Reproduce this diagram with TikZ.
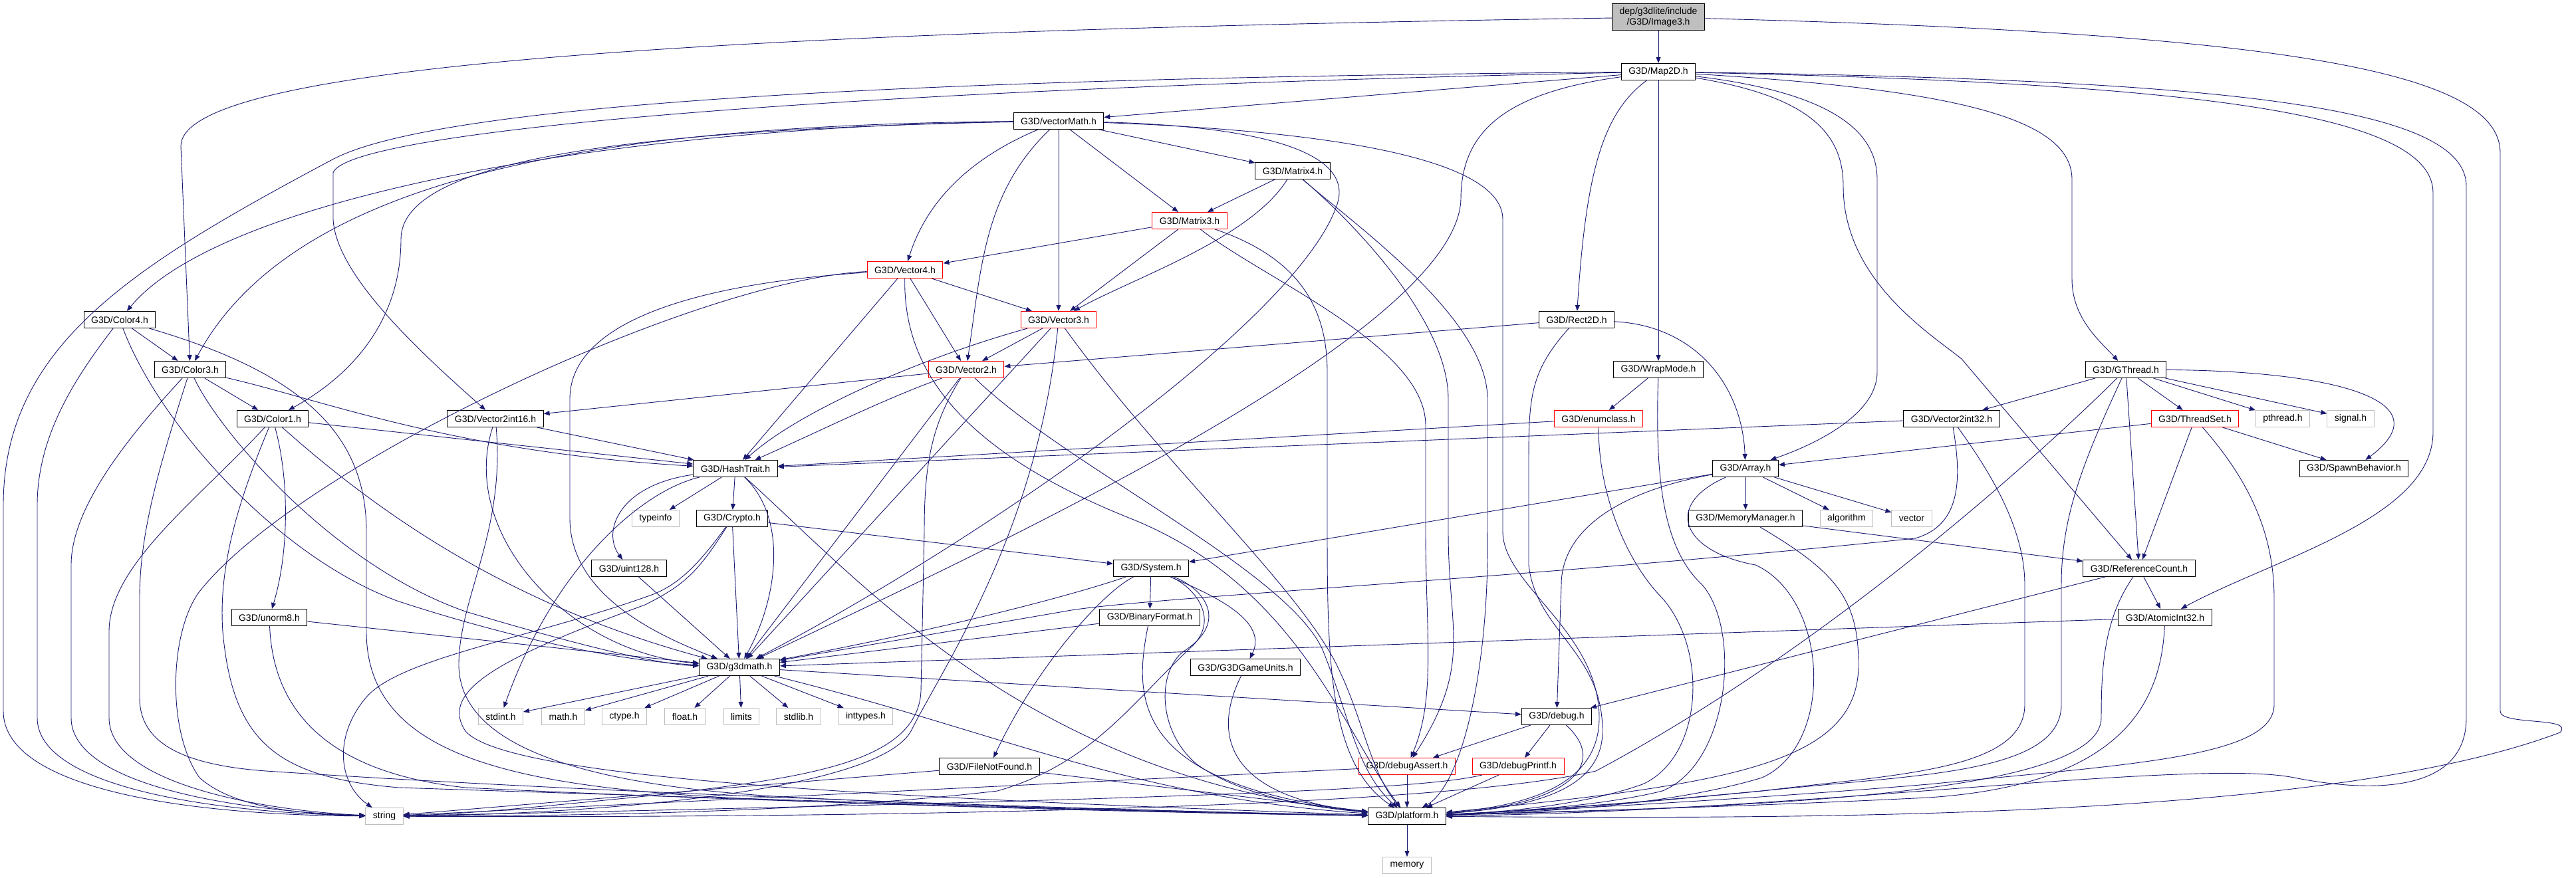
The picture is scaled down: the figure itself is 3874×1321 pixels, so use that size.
\documentclass[tikz,border=0pt]{standalone}
\usepackage{fontspec}
\setmainfont{Liberation Sans}
\usetikzlibrary{arrows.meta}
\definecolor{edgeblue}{HTML}{191970}
\definecolor{sysgray}{HTML}{BFBFBF}
\tikzset{
header/.style={rectangle, draw=black, fill=white, line width=1pt, minimum height=25pt, inner xsep=11pt, inner ysep=0pt, font=\fontsize{14}{16}\selectfont},
red_header/.style={header, draw=red},
sys_header/.style={header, draw=sysgray},
root_header/.style={header, fill=sysgray, align=center, minimum height=40pt},
dep/.style={->, draw=edgeblue, line width=0.9pt}
}
\begin{document}
\begin{tikzpicture}[x=1pt, y=-1pt, >={Triangle[length=9pt,width=7pt]}]
    \useasboundingbox (0,0) rectangle (3874,1321);
    \node[root_header] (image3) at (2494,26) {dep/g3dlite/include\\/G3D/Image3.h};
    \node[header] (map2d) at (2494,108) {G3D/Map2D.h};
    \node[header] (vectormath) at (1592,182) {G3D/vectorMath.h};
    \node[header] (matrix4) at (1944,257) {G3D/Matrix4.h};
    \node[red_header] (matrix3) at (1789,332) {G3D/Matrix3.h};
    \node[red_header] (vector4) at (1361,406) {G3D/Vector4.h};
    \node[header] (color4) at (180,481) {G3D/Color4.h};
    \node[red_header] (vector3) at (1592,481) {G3D/Vector3.h};
    \node[header] (rect2d) at (2371,481) {G3D/Rect2D.h};
    \node[header] (color3) at (286,556) {G3D/Color3.h};
    \node[red_header] (vector2) at (1453,556) {G3D/Vector2.h};
    \node[header] (wrapmode) at (2494,556) {G3D/WrapMode.h};
    \node[header] (gthread) at (3197,556) {G3D/GThread.h};
    \node[header] (color1) at (410,630) {G3D/Color1.h};
    \node[header] (vec2int16) at (745,630) {G3D/Vector2int16.h};
    \node[red_header] (enumclass) at (2404,630) {G3D/enumclass.h};
    \node[header] (vec2int32) at (2935,630) {G3D/Vector2int32.h};
    \node[red_header] (threadset) at (3301,630) {G3D/ThreadSet.h};
    \node[sys_header] (pthread) at (3433,630) {pthread.h};
    \node[sys_header] (signal) at (3535,630) {signal.h};
    \node[header] (hashtrait) at (1106,705) {G3D/HashTrait.h};
    \node[header] (array) at (2625,705) {G3D/Array.h};
    \node[header] (spawn) at (3540,705) {G3D/SpawnBehavior.h};
    \node[sys_header] (typeinfo) at (986,780) {typeinfo};
    \node[header] (crypto) at (1101,780) {G3D/Crypto.h};
    \node[header] (memmgr) at (2625,780) {G3D/MemoryManager.h};
    \node[sys_header] (algorithm) at (2777,780) {algorithm};
    \node[sys_header] (vector) at (2875,780) {vector};
    \node[header] (uint128) at (946,855) {G3D/uint128.h};
    \node[header] (system) at (1731,855) {G3D/System.h};
    \node[header] (refcount) at (3217,855) {G3D/ReferenceCount.h};
    \node[header] (unorm8) at (405,929) {G3D/unorm8.h};
    \node[header] (binfmt) at (1729,929) {G3D/BinaryFormat.h};
    \node[header] (atomic) at (3256,929) {G3D/AtomicInt32.h};
    \node[header] (g3dmath) at (1112,1004) {G3D/g3dmath.h};
    \node[header] (gameunits) at (1873,1004) {G3D/G3DGameUnits.h};
    \node[sys_header] (stdint) at (753,1078) {stdint.h};
    \node[sys_header] (mathh) at (847,1078) {math.h};
    \node[sys_header] (ctype) at (939,1078) {ctype.h};
    \node[sys_header] (floath) at (1030,1078) {float.h};
    \node[sys_header] (limits) at (1115,1078) {limits};
    \node[sys_header] (stdlib) at (1201,1078) {stdlib.h};
    \node[sys_header] (inttypes) at (1302,1078) {inttypes.h};
    \node[header] (debug) at (2341,1078) {G3D/debug.h};
    \node[header] (filenf) at (1488,1153) {G3D/FileNotFound.h};
    \node[red_header] (dassert) at (2116,1153) {G3D/debugAssert.h};
    \node[red_header] (dprintf) at (2283,1153) {G3D/debugPrintf.h};
    \node[sys_header] (string) at (578,1228) {string};
    \node[header] (platform) at (2116,1228) {G3D/platform.h};
    \node[sys_header] (memory) at (2116,1302) {memory};

    \draw[dep] (image3) -- (map2d);
    \draw[dep] (image3) .. controls (900,50) and (272,110) .. (272,220) -- (color3);
    \draw[dep] (image3) .. controls (3450,50) and (3760,110) .. (3760,230) -- (3760,1070) .. controls (3760,1092) and (3872,1078) .. (3850,1102) .. controls (3500,1235) and (2700,1232) .. (platform);

    \draw[dep] (map2d) -- (vectormath);
    \draw[dep] (map2d) .. controls (1300,118) and (650,160) .. (500,240) .. controls (200,400) and (5,520) .. (5,760) -- (5,1070) .. controls (5,1180) and (250,1226) .. (string);
    \draw[dep] (map2d) .. controls (1200,135) and (520,200) .. (501,260) -- (501,330) .. controls (505,410) and (620,520) .. (vec2int16);
    \draw[dep] (map2d) .. controls (2260,140) and (2197,200) .. (2197,300) .. controls (2190,500) and (1500,820) .. (g3dmath);
    \draw[dep] (map2d) .. controls (2760,140) and (2823,200) .. (2823,270) -- (2823,560) .. controls (2823,620) and (2740,665) .. (array);
    \draw[dep] (map2d) .. controls (2720,145) and (2772,200) .. (2772,280) .. controls (2772,420) and (2900,500) .. (2950,540) -- (refcount);
    \draw[dep] (map2d) .. controls (2950,135) and (3116,180) .. (3116,270) -- (3116,420) .. controls (3116,480) and (3160,515) .. (gthread);
    \draw[dep] (map2d) .. controls (3300,125) and (3659,170) .. (3659,290) -- (3659,650) .. controls (3659,780) and (3420,840) .. (atomic);
    \draw[dep] (map2d) .. controls (3350,120) and (3709,160) .. (3709,280) -- (3709,1080) .. controls (3709,1200) and (3550,1190) .. (3450,1170) .. controls (3300,1140) and (2700,1222) .. (platform);
    \draw[dep] (map2d) .. controls (2410,170) and (2385,260) .. (rect2d);
    \draw[dep] (map2d) -- (wrapmode);

    \draw[dep] (vectormath) .. controls (900,192) and (330,300) .. (color4);
    \draw[dep] (vectormath) .. controls (950,188) and (450,250) .. (color3);
    \draw[dep] (vectormath) .. controls (950,195) and (603,240) .. (603,360) .. controls (603,490) and (520,570) .. (color1);
    \draw[dep] (vectormath) .. controls (1430,250) and (1385,330) .. (vector4);
    \draw[dep] (vectormath) .. controls (1480,290) and (1476,400) .. (vector2);
    \draw[dep] (vectormath) -- (vector3);
    \draw[dep] (vectormath) -- (matrix3);
    \draw[dep] (vectormath) -- (matrix4);
    \draw[dep] (vectormath) .. controls (1900,190) and (2040,230) .. (2010,310) .. controls (1950,480) and (1500,800) .. (g3dmath);
    \draw[dep] (vectormath) .. controls (1950,195) and (2260,230) .. (2260,330) -- (2260,800) .. controls (2260,880) and (2405,950) .. (2405,1080) .. controls (2405,1180) and (2300,1212) .. (platform);

    \draw[dep] (matrix4) -- (matrix3);
    \draw[dep] (matrix4) .. controls (1880,360) and (1700,420) .. (vector3);
    \draw[dep] (matrix4) .. controls (2030,330) and (2178,480) .. (2178,600) -- (2178,800) .. controls (2178,950) and (2215,1000) .. (dassert);
    \draw[dep] (matrix4) .. controls (2040,340) and (2237,480) .. (2237,600) -- (2237,800) .. controls (2240,1000) and (2200,1180) .. (platform);

    \draw[dep] (matrix3) -- (vector4);
    \draw[dep] (matrix3) -- (vector3);
    \draw[dep] (matrix3) .. controls (1900,420) and (2144,520) .. (2144,640) -- (2144,800) .. controls (2144,950) and (2160,1050) .. (dassert);
    \draw[dep] (matrix3) .. controls (1960,390) and (1996,470) .. (1996,560) -- (1996,800) .. controls (1996,1000) and (2000,1150) .. (platform);

    \draw[dep] (vector4) -- (hashtrait);
    \draw[dep] (vector4) -- (vector2);
    \draw[dep] (vector4) -- (vector3);
    \draw[dep] (vector4) .. controls (1358,560) and (1450,680) .. (1700,780) .. controls (1950,880) and (2020,1100) .. (platform);
    \draw[dep] (vector4) .. controls (1000,430) and (857,500) .. (857,600) -- (857,780) .. controls (857,900) and (1000,960) .. (g3dmath);
    \draw[dep] (vector4) .. controls (1050,420) and (450,700) .. (300,890) .. controls (255,950) and (250,1100) .. (300,1170) .. controls (350,1215) and (450,1225) .. (string);

    \draw[dep] (vector3) .. controls (1380,540) and (1200,620) .. (hashtrait);
    \draw[dep] (vector3) -- (vector2);
    \draw[dep] (vector3) -- (g3dmath);
    \draw[dep] (vector3) .. controls (1560,800) and (1420,1000) .. (1370,1100) .. controls (1320,1190) and (900,1225) .. (string);
    \draw[dep] (vector3) .. controls (1750,700) and (1950,880) .. (2010,1000) .. controls (2050,1080) and (2060,1160) .. (platform);

    \draw[dep] (vector2) -- (vec2int16);
    \draw[dep] (vector2) .. controls (1330,600) and (1230,650) .. (hashtrait);
    \draw[dep] (vector2) -- (g3dmath);
    \draw[dep] (vector2) .. controls (1400,640) and (1390,700) .. (1390,800) -- (1385,1040) .. controls (1380,1150) and (1200,1170) .. (1000,1195) .. controls (800,1215) and (700,1225) .. (string);
    \draw[dep] (vector2) .. controls (1600,700) and (1940,860) .. (1990,980) .. controls (2030,1080) and (2040,1160) .. (platform);

    \draw[dep] (rect2d) -- (vector2);
    \draw[dep] (rect2d) .. controls (2300,560) and (2299,600) .. (2299,700) -- (2299,850) .. controls (2310,950) and (2410,980) .. (2410,1100) .. controls (2410,1190) and (2300,1215) .. (platform);
    \draw[dep] (rect2d) .. controls (2550,490) and (2620,580) .. (array);

    \draw[dep] (wrapmode) -- (enumclass);
    \draw[dep] (wrapmode) .. controls (2490,700) and (2495,820) .. (2560,880) .. controls (2620,950) and (2600,1150) .. (2500,1190) .. controls (2400,1215) and (2250,1222) .. (platform);

    \draw[dep] (enumclass) -- (hashtrait);
    \draw[dep] (enumclass) .. controls (2404,750) and (2450,850) .. (2500,900) .. controls (2570,980) and (2560,1140) .. (2470,1180) .. controls (2380,1212) and (2260,1222) .. (platform);

    \draw[dep] (gthread) -- (vec2int32);
    \draw[dep] (gthread) -- (threadset);
    \draw[dep] (gthread) -- (pthread);
    \draw[dep] (gthread) -- (signal);
    \draw[dep] (gthread) -- (refcount);
    \draw[dep] (gthread) .. controls (3500,558) and (3680,600) .. (spawn);
    \draw[dep] (gthread) .. controls (3000,750) and (2700,1000) .. (2400,1160) .. controls (2100,1230) and (900,1230) .. (string);
    \draw[dep] (gthread) .. controls (3130,700) and (3100,780) .. (3100,880) -- (3100,1060) .. controls (3100,1160) and (2900,1165) .. (2700,1185) .. controls (2500,1205) and (2300,1220) .. (platform);

    \draw[dep] (vec2int32) -- (hashtrait);
    \draw[dep] (vec2int32) .. controls (2950,720) and (2950,790) .. (2880,810) .. controls (2300,870) and (1700,900) .. (1600,920) -- (g3dmath);
    \draw[dep] (vec2int32) .. controls (3000,720) and (3045,800) .. (3045,880) -- (3045,1060) .. controls (3045,1160) and (2850,1165) .. (2650,1190) .. controls (2450,1210) and (2300,1220) .. (platform);

    \draw[dep] (threadset) -- (array);
    \draw[dep] (threadset) -- (refcount);
    \draw[dep] (threadset) -- (spawn);
    \draw[dep] (threadset) .. controls (3380,720) and (3420,800) .. (3420,900) -- (3420,1060) .. controls (3420,1140) and (3200,1150) .. (2900,1180) .. controls (2600,1205) and (2300,1220) .. (platform);

    \draw[dep] (hashtrait) .. controls (930,730) and (905,800) .. (uint128);
    \draw[dep] (hashtrait) .. controls (960,740) and (830,860) .. (stdint);
    \draw[dep] (hashtrait) -- (typeinfo);
    \draw[dep] (hashtrait) -- (crypto);
    \draw[dep] (hashtrait) .. controls (1185,780) and (1170,900) .. (g3dmath);
    \draw[dep] (hashtrait) .. controls (1300,880) and (1550,1170) .. (platform);

    \draw[dep] (crypto) -- (system);
    \draw[dep] (crypto) .. controls (1050,850) and (1020,880) .. (980,895) .. controls (800,960) and (600,990) .. (550,1050) .. controls (500,1110) and (510,1180) .. (string);
    \draw[dep] (crypto) .. controls (1050,860) and (1030,880) .. (970,910) .. controls (750,990) and (660,1040) .. (700,1100) .. controls (760,1170) and (1300,1200) .. (platform);
    \draw[dep] (crypto) -- (g3dmath);

    \draw[dep] (uint128) -- (g3dmath);

    \draw[dep] (system) .. controls (1600,900) and (1400,950) .. (g3dmath);
    \draw[dep] (system) .. controls (1660,890) and (1560,1000) .. (filenf);
    \draw[dep] (system) -- (binfmt);
    \draw[dep] (system) .. controls (1810,890) and (1910,930) .. (gameunits);
    \draw[dep] (system) .. controls (1800,885) and (1835,935) .. (1790,975) .. controls (1700,1060) and (1640,1150) .. (1500,1190) .. controls (1200,1225) and (800,1228) .. (string);
    \draw[dep] (system) .. controls (1810,885) and (1850,935) .. (1780,980) .. controls (1740,1010) and (1740,1100) .. (1800,1150) .. controls (1870,1200) and (1980,1215) .. (platform);

    \draw[dep] (binfmt) -- (g3dmath);
    \draw[dep] (binfmt) .. controls (1705,1050) and (1700,1180) .. (platform);

    \draw[dep] (gameunits) .. controls (1820,1110) and (1850,1200) .. (platform);

    \draw[dep] (filenf) -- (string);
    \draw[dep] (filenf) -- (platform);

    \draw[dep] (g3dmath) -- (stdint);
    \draw[dep] (g3dmath) -- (mathh);
    \draw[dep] (g3dmath) -- (ctype);
    \draw[dep] (g3dmath) -- (floath);
    \draw[dep] (g3dmath) -- (limits);
    \draw[dep] (g3dmath) -- (stdlib);
    \draw[dep] (g3dmath) -- (inttypes);
    \draw[dep] (g3dmath) -- (debug);
    \draw[dep] (g3dmath) .. controls (1500,1100) and (1700,1200) .. (platform);

    \draw[dep] (debug) -- (dassert);
    \draw[dep] (debug) -- (dprintf);
    \draw[dep] (debug) .. controls (2420,1150) and (2360,1210) .. (platform);

    \draw[dep] (dassert) -- (string);
    \draw[dep] (dassert) -- (platform);
    \draw[dep] (dprintf) .. controls (2150,1185) and (1900,1200) .. (string);
    \draw[dep] (dprintf) -- (platform);

    \draw[dep] (refcount) -- (debug);
    \draw[dep] (refcount) .. controls (3165,930) and (3160,1000) .. (3160,1080) .. controls (3160,1200) and (2600,1215) .. (platform);
    \draw[dep] (refcount) -- (atomic);

    \draw[dep] (atomic) -- (g3dmath);
    \draw[dep] (atomic) .. controls (3250,1050) and (3200,1180) .. (2900,1200) .. controls (2600,1215) and (2300,1222) .. (platform);

    \draw[dep] (array) -- (system);
    \draw[dep] (array) .. controls (2430,740) and (2348,800) .. (2348,880) -- (debug);
    \draw[dep] (array) .. controls (2500,760) and (2530,830) .. (2640,850) .. controls (2750,900) and (2760,1120) .. (2650,1170) .. controls (2500,1215) and (2300,1222) .. (platform);
    \draw[dep] (array) -- (memmgr);
    \draw[dep] (array) -- (algorithm);
    \draw[dep] (array) -- (vector);

    \draw[dep] (memmgr) -- (refcount);
    \draw[dep] (memmgr) .. controls (2760,860) and (2795,900) .. (2795,1000) .. controls (2795,1150) and (2600,1180) .. (platform);

    \draw[dep] (color4) -- (color3);
    \draw[dep] (color4) .. controls (120,560) and (56,650) .. (56,760) -- (56,1080) .. controls (56,1180) and (300,1222) .. (string);
    \draw[dep] (color4) .. controls (240,640) and (420,840) .. (600,905) .. controls (800,970) and (950,995) .. (g3dmath);
    \draw[dep] (color4) .. controls (450,560) and (551,650) .. (551,800) -- (551,950) .. controls (551,1150) and (800,1190) .. (1200,1205) .. controls (1600,1220) and (1900,1225) .. (platform);

    \draw[dep] (color3) -- (color1);
    \draw[dep] (color3) .. controls (480,600) and (680,680) .. (hashtrait);
    \draw[dep] (color3) .. controls (200,650) and (107,760) .. (107,850) -- (107,1080) .. controls (107,1180) and (350,1220) .. (string);
    \draw[dep] (color3) .. controls (330,650) and (500,850) .. (700,920) .. controls (900,980) and (1000,1000) .. (g3dmath);
    \draw[dep] (color3) .. controls (240,700) and (210,800) .. (210,900) -- (210,1050) .. controls (210,1110) and (260,1150) .. (400,1160) .. controls (1000,1200) and (1800,1222) .. (platform);

    \draw[dep] (color1) -- (hashtrait);
    \draw[dep] (color1) .. controls (435,720) and (435,830) .. (unorm8);
    \draw[dep] (color1) .. controls (600,800) and (800,920) .. (g3dmath);
    \draw[dep] (color1) .. controls (300,750) and (164,850) .. (164,950) -- (164,1080) .. controls (164,1180) and (400,1220) .. (string);
    \draw[dep] (color1) .. controls (360,750) and (328,850) .. (335,950) .. controls (350,1120) and (420,1170) .. (600,1185) .. controls (1200,1205) and (1800,1222) .. (platform);

    \draw[dep] (vec2int16) -- (hashtrait);
    \draw[dep] (vec2int16) .. controls (690,800) and (850,980) .. (g3dmath);
    \draw[dep] (vec2int16) .. controls (760,800) and (690,900) .. (690,1000) .. controls (690,1130) and (900,1185) .. (1200,1200) .. controls (1600,1220) and (1900,1225) .. (platform);

    \draw[dep] (unorm8) -- (g3dmath);
    \draw[dep] (unorm8) .. controls (410,1050) and (470,1160) .. (700,1185) .. controls (1200,1210) and (1800,1222) .. (platform);

    \draw[dep] (platform) -- (memory);
\end{tikzpicture}
\end{document}
